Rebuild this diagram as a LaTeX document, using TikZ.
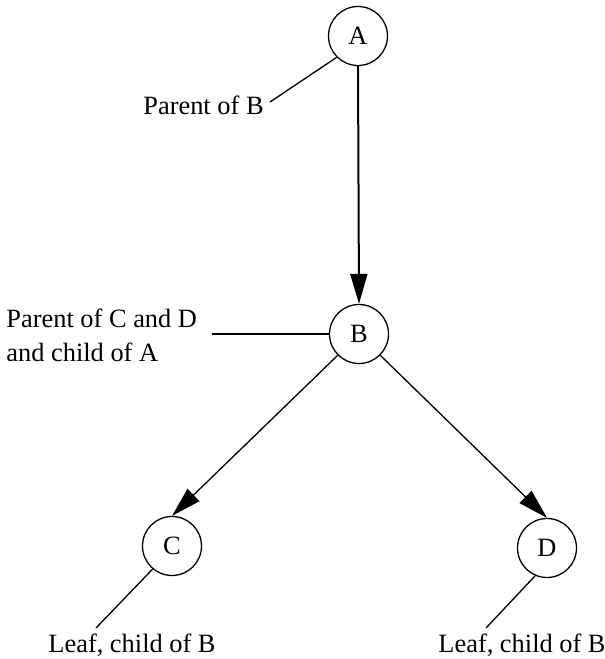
\documentclass[tikz,border=0pt]{standalone}
\usepackage{fontspec}
\setmainfont{Liberation Serif}
\usetikzlibrary{arrows.meta}
\begin{document}
\begin{tikzpicture}[x=0.5pt,y=-0.5pt,
  every node/.style={font=\fontsize{13.2pt}{17pt}\selectfont},
  vert/.style={circle,draw,line width=0.65pt,minimum size=29.5pt,inner sep=0pt},
  lbl/.style={inner sep=0pt,align=left},
  tip/.style={-{Triangle[length=15pt,width=8.5pt]}},
  thin/.style={line width=0.65pt}]
\useasboundingbox (0,0) rectangle (605,659);
\node[vert] (A) at (358,36) {A};
\node[vert] (B) at (359,334) {B};
\node[vert] (C) at (172,546) {C};
\node[vert] (D) at (547,548) {D};
\node[lbl,anchor=east] (pb) at (264,105) {Parent of B};
\node[lbl,anchor=west] (pcd) at (6,335) {Parent of C and D\\and child of A};
\node[lbl] (lc) at (132,645) {Leaf, child of B};
\node[lbl] (ld) at (522,645) {Leaf, child of B};
\coordinate (pbend) at (270,102);
\coordinate (pcdend) at (212,334);
\coordinate (lcend) at (96,628);
\coordinate (ldend) at (486,628);
\draw[tip,line width=1pt] (A.south) -- (B.north);
\draw[tip,thin] (B.south west) -- (C.north);
\draw[tip,thin] (B.south east) -- (D.north);
\draw[thin] (A.south west) -- (pbend);
\draw[line width=1pt] (B.west) -- (pcdend);
\draw[thin] (C.230) -- (lcend);
\draw[thin] (D.247) -- (ldend);
\end{tikzpicture}
\end{document}
